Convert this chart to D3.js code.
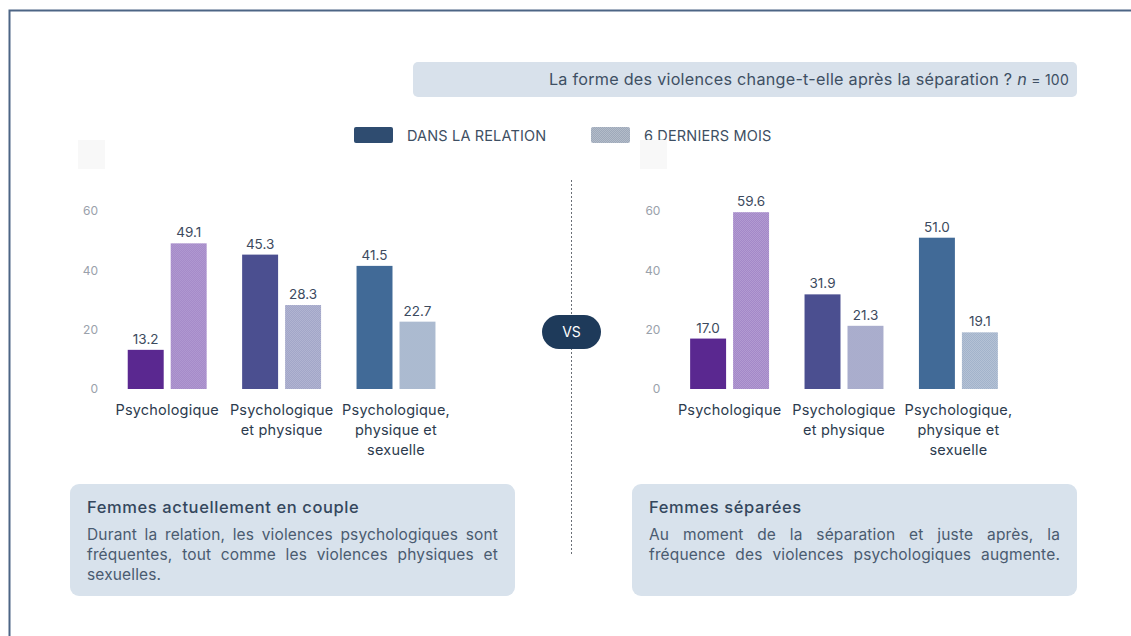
<!DOCTYPE html>
<html>
<head>
<meta charset="utf-8">
<script src="https://cdn.jsdelivr.net/npm/d3@7"></script>
<style>
  html, body { margin: 0; padding: 0; background: #ffffff; }
  svg { display: block; }
</style>
</head>
<body>
<svg id="chart" width="1131" height="636"></svg>
<script>
// ---------- DATA ----------
const categories = ["Psychologique", "Psychologique et physique", "Psychologique, physique et sexuelle"];
const categoryLines = [["Psychologique"], ["Psychologique", "et physique"], ["Psychologique,", "physique et", "sexuelle"]];
const seriesNames = ["DANS LA RELATION", "6 DERNIERS MOIS"];
const coupleRelation = [13.2, 45.3, 41.5];
const coupleSixMonths = [49.1, 28.3, 22.7];
const separatedRelation = [17.0, 31.9, 51.0];
const separatedSixMonths = [59.6, 21.3, 19.1];
const yTicks = [0, 20, 40, 60];
const titleText = "La forme des violences change-t-elle après la séparation ? ";
const coupleTitle = "Femmes actuellement en couple";
const coupleBody = ["Durant la relation, les violences psychologiques sont", "fréquentes, tout comme les violences physiques et", "sexuelles."];
const separatedTitle = "Femmes séparées";
const separatedBody = ["Au moment de la séparation et juste après, la", "fréquence des violences psychologiques augmente."];

// ---------- STYLE ----------
const solidColors = ["#5a2890", "#4b4f90", "#416a97"];
const patternColors = ["#a084c6", "#9fa3c6", "#a1b2ca"];
const FONT = "Inter, 'DejaVu Sans', sans-serif";

const svg = d3.select("#chart");
const defs = svg.append("defs");

function makePattern(id, base) {
  const p = defs.append("pattern").attr("id", id)
    .attr("patternUnits", "userSpaceOnUse").attr("width", 2).attr("height", 2);
  p.append("rect").attr("width", 2).attr("height", 2).attr("fill", base);
  p.append("rect").attr("width", 1).attr("height", 1).attr("fill", "#ffffff").attr("fill-opacity", 0.22);
  p.append("rect").attr("x", 1).attr("y", 1).attr("width", 1).attr("height", 1).attr("fill", "#ffffff").attr("fill-opacity", 0.22);
}
patternColors.forEach((c, i) => makePattern("pat" + i, c));
makePattern("patLegend", "#9ea9ba");

// Frame border
svg.append("rect").attr("x", 9.5).attr("y", 10.5).attr("width", 1200).attr("height", 700)
  .attr("fill", "none").attr("stroke", "#4d6585").attr("stroke-width", 2);

// Title box
svg.append("rect").attr("x", 413).attr("y", 62).attr("width", 664).attr("height", 35)
  .attr("rx", 5).attr("fill", "#d8e1eb");
const t = svg.append("text").attr("x", 1069).attr("y", 84.5).attr("text-anchor", "end")
  .attr("font-family", FONT).attr("font-size", 16.2).attr("letter-spacing", 0.25).attr("fill", "#3e4f63");
t.append("tspan").text(titleText);
t.append("tspan").attr("font-style", "italic").text("n");
t.append("tspan").attr("font-size", 14).text(" = 100");

// Legend
const legend = svg.append("g");
const legendItems = [{x: 354, fill: "#2f4c70", label: seriesNames[0]}, {x: 591, fill: "url(#patLegend)", label: seriesNames[1]}];
legendItems.forEach(d => {
  legend.append("rect").attr("x", d.x).attr("y", 127).attr("width", 39).attr("height", 16)
    .attr("rx", 2).attr("fill", d.fill);
  legend.append("text").attr("x", d.x + 53).attr("y", 140.5)
    .attr("font-family", FONT).attr("font-size", 14.5).attr("letter-spacing", 0.15).attr("fill", "#3e4f63")
    .text(d.label);
});

// faint placeholder squares
[78, 640].forEach(x => svg.append("rect").attr("x", x).attr("y", 140).attr("width", 27).attr("height", 29).attr("fill", "#f8f8f8"));

// ---------- CHARTS ----------
const y = d3.scaleLinear().domain([0, 60]).range([389, 211]);

function drawPanel(range0, rel, six) {
  const g = svg.append("g");
  const x0 = d3.scaleBand().domain(categories).range([range0, range0 + 343.2])
    .paddingInner(0.31).paddingOuter(0.155);
  const x1 = d3.scaleBand().domain(seriesNames).range([0, x0.bandwidth()]).paddingInner(0.163);

  const axis = d3.axisLeft(y).tickValues(yTicks).tickSize(0).tickPadding(0);
  const ax = g.append("g").attr("transform", `translate(${range0 - 12},0)`).call(axis);
  ax.select(".domain").remove();
  ax.selectAll("text").attr("font-family", FONT).attr("font-size", 12).attr("fill", "#9aa1ab");

  const data = categories.map((c, i) => ({cat: c, i, vals: [rel[i], six[i]]}));
  const groups = g.selectAll("g.grp").data(data).join("g").attr("class", "grp")
    .attr("transform", d => `translate(${x0(d.cat)},0)`);

  groups.selectAll("rect").data(d => d.vals.map((v, k) => ({v, k, i: d.i}))).join("rect")
    .attr("x", d => x1(seriesNames[d.k])).attr("width", x1.bandwidth())
    .attr("y", d => y(d.v)).attr("height", d => y(0) - y(d.v))
    .attr("fill", d => d.k === 0 ? solidColors[d.i] : `url(#pat${d.i})`);

  groups.selectAll("text.val").data(d => d.vals.map((v, k) => ({v, k}))).join("text")
    .attr("class", "val")
    .attr("x", d => x1(seriesNames[d.k]) + x1.bandwidth() / 2).attr("y", d => y(d.v) - 6)
    .attr("text-anchor", "middle").attr("font-family", FONT).attr("font-size", 13.5)
    .attr("fill", "#3c4a5e").text(d => d3.format(".1f")(d.v));

  groups.each(function(d) {
    const txt = d3.select(this).append("text").attr("text-anchor", "middle")
      .attr("font-family", FONT).attr("font-size", 14.5).attr("letter-spacing", 0.2).attr("fill", "#2c3b4e");
    categoryLines[d.i].forEach((line, li) => {
      txt.append("tspan").attr("x", x0.bandwidth() / 2).attr("y", 415 + li * 20).text(line);
    });
  });
}
drawPanel(110, coupleRelation, coupleSixMonths);
drawPanel(672.4, separatedRelation, separatedSixMonths);

// Divider + VS
svg.append("line").attr("x1", 571.5).attr("x2", 571.5).attr("y1", 180).attr("y2", 556)
  .attr("stroke", "#6a6f76").attr("stroke-width", 1).attr("stroke-dasharray", "2,2");
svg.append("rect").attr("x", 542).attr("y", 315).attr("width", 59).attr("height", 34).attr("rx", 17)
  .attr("fill", "#1e3a5a");
svg.append("text").attr("x", 571.5).attr("y", 337).attr("text-anchor", "middle")
  .attr("font-family", FONT).attr("font-size", 14).attr("fill", "#ffffff").text("VS");

// ---------- TEXT BOXES ----------
function textBox(x, title, lines) {
  const g = svg.append("g");
  g.append("rect").attr("x", x).attr("y", 484).attr("width", 445).attr("height", 112)
    .attr("rx", 9).attr("fill", "#d8e2ec");
  g.append("text").attr("x", x + 17).attr("y", 513).attr("font-family", FONT)
    .attr("font-size", 16.5).attr("letter-spacing", 0.6).attr("font-weight", 500).attr("fill", "#34475d").text(title);
  const left = x + 17, right = x + 428;
  lines.forEach((line, li) => {
    const yy = 540 + li * 20;
    const words = line.split(" ");
    const txt = g.append("text").attr("font-family", FONT).attr("font-size", 15.5)
      .attr("letter-spacing", 0.15).attr("fill", "#4a5b70").attr("y", yy);
    const spans = words.map(w => txt.append("tspan").text(w));
    const widths = spans.map(s => s.node().getComputedTextLength());
    const total = d3.sum(widths);
    const justify = !(li === lines.length - 1 && lines.length === 3);
    const gap = justify && words.length > 1 ? (right - left - total) / (words.length - 1) : 4.5;
    let cx = left;
    spans.forEach((s, k) => { s.attr("x", cx); cx += widths[k] + gap; });
  });
}
textBox(70, coupleTitle, coupleBody);
textBox(632, separatedTitle, separatedBody);
</script>
</body>
</html>
